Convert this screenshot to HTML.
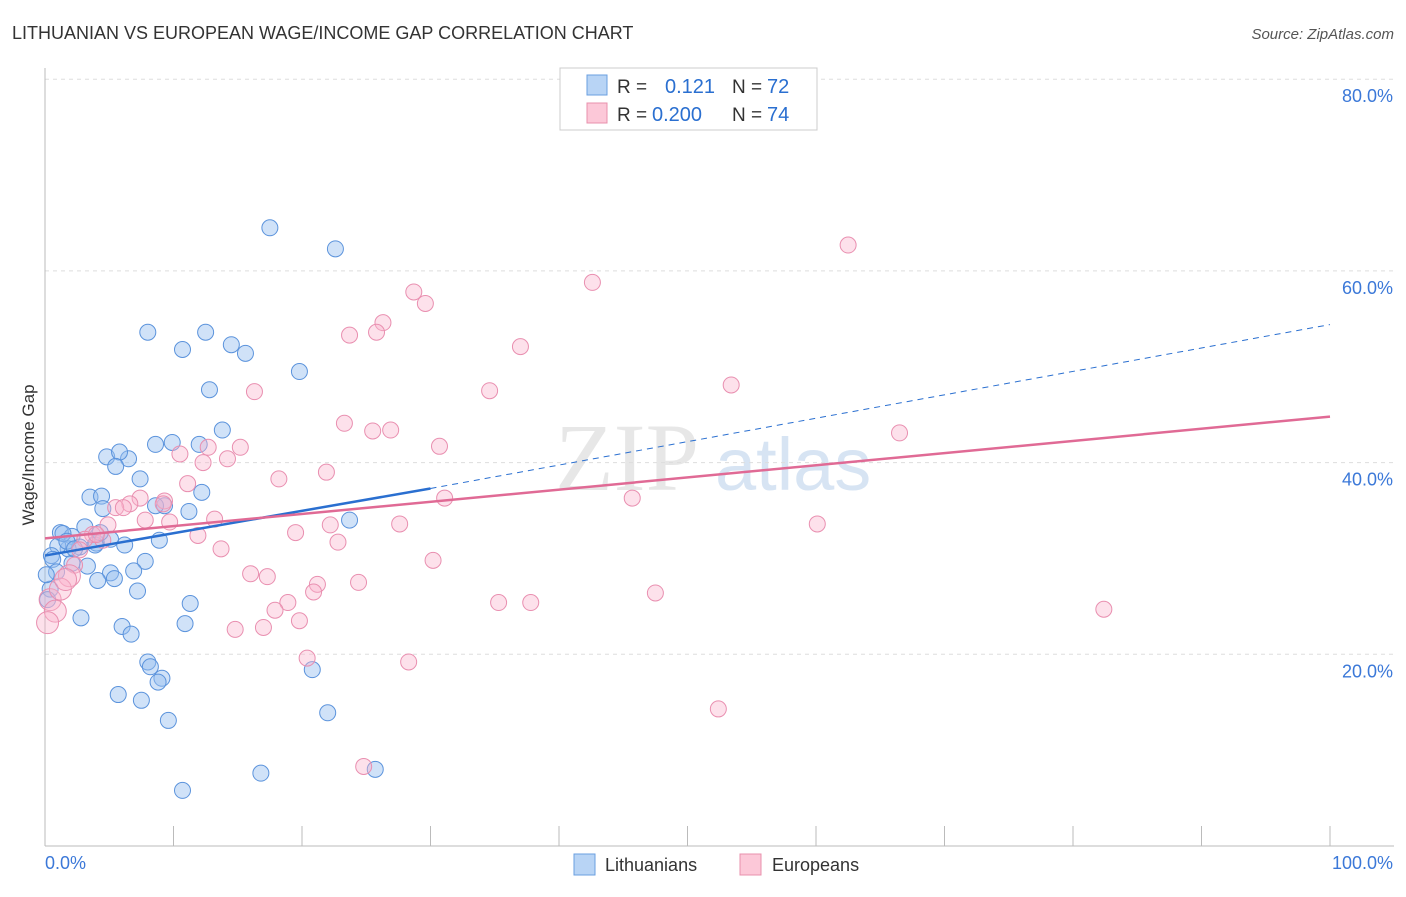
<!DOCTYPE html>
<html><head><meta charset="utf-8"><style>
body{margin:0;background:#fff;font-family:"Liberation Sans",sans-serif}
</style></head><body>
<svg id="c" width="1406" height="892" viewBox="0 0 1406 892" xmlns="http://www.w3.org/2000/svg" font-family="Liberation Sans, sans-serif">
<text x="12" y="39" font-size="18" fill="#333">LITHUANIAN VS EUROPEAN WAGE/INCOME GAP CORRELATION CHART</text>
<text x="1394" y="39" font-size="15" fill="#555" text-anchor="end" font-style="italic">Source: ZipAtlas.com</text>
<text x="555" y="490" font-size="96" fill="#ccc" opacity="0.45" font-family="Liberation Serif, serif">ZIP</text>
<text x="715" y="490" font-size="74" fill="#a8c4e6" opacity="0.45">atlas</text>
<g id="grid"></g><g id="axes"></g><g id="pts"></g><g id="trend"></g>
<text transform="translate(34,455) rotate(-90)" font-size="17" fill="#333" text-anchor="middle">Wage/Income Gap</text>
<g>
<rect x="560" y="68" width="257" height="62" fill="#fff" stroke="#ccc"/>
<rect x="587" y="75" width="20" height="20" fill="#b8d4f5" stroke="#6a9fe0"/>
<rect x="587" y="103" width="20" height="20" fill="#fcc8d8" stroke="#e890ac"/>
<text x="617" y="93" font-size="19" fill="#333">R =</text>
<text x="665" y="93" font-size="20" fill="#2a6fd0">0.121</text>
<text x="732" y="93" font-size="19" fill="#333">N =</text>
<text x="767" y="93" font-size="20" fill="#2a6fd0">72</text>
<text x="617" y="121" font-size="19" fill="#333">R =</text>
<text x="652" y="121" font-size="20" fill="#2a6fd0">0.200</text>
<text x="732" y="121" font-size="19" fill="#333">N =</text>
<text x="767" y="121" font-size="20" fill="#2a6fd0">74</text>
</g>
<g>
<rect x="574" y="854" width="21" height="21" fill="#b8d4f5" stroke="#6a9fe0"/>
<text x="605" y="871" font-size="18" fill="#333">Lithuanians</text>
<rect x="740" y="854" width="21" height="21" fill="#fcc8d8" stroke="#e890ac"/>
<text x="772" y="871" font-size="18" fill="#333">Europeans</text>
</g>
</svg>
<script>
const yTicks=[20,40,60,80];
const yTickLabels=["20.0%","40.0%","60.0%","80.0%"];
const blueX=[17.5,22.6,8.0,12.5,10.7,14.5,15.6,19.8,12.8,13.8,8.6,9.9,12.0,4.8,6.5,5.8,5.5,7.4,3.5,4.4,12.2,4.5,9.3,11.2,23.7,1.2,3.1,2.1,4.0,2.7,1.8,1.0,0.5,6.2,8.9,7.8,3.3,2.1,5.1,6.9,5.4,4.1,7.2,0.6,0.4,11.3,2.8,6.0,6.7,10.9,8.0,8.2,9.1,8.8,20.8,5.7,7.5,9.6,22.0,16.8,25.7,10.7,0.2,1.4,3.9,5.1,0.9,1.7,8.6,0.1,2.3,4.3];
const blueY=[645,623,536,536,518,523,514,495,476,434,419,421,419,406,404,411,396,383,364,365,369,352,355,349,340,327,333,323,316,312,310,313,303,314,319,297,292,295,285,287,279,277,266,299,268,253,238,229,221,232,192,187,175,171,184,158,152,131,139,76,80,58,257,326,314,320,286,318,355,283,310,327].map(v=>v/10);
const pinkX=[62.5,42.6,28.7,29.6,26.3,25.8,23.7,37.0,53.4,34.6,16.3,23.3,25.5,26.9,66.5,30.7,15.2,12.7,10.5,14.2,12.3,21.9,18.2,11.1,31.1,45.7,7.4,9.3,6.6,5.5,6.1,9.2,7.8,9.7,13.2,4.9,27.6,22.2,60.1,3.7,19.5,11.9,4.5,22.8,13.7,30.2,2.3,1.9,16.0,17.3,24.4,21.2,20.9,47.5,35.3,37.8,18.9,17.9,19.8,82.4,17.0,14.8,20.4,28.3,52.4,24.8,0.4,0.8,0.2,1.2,1.6,3.1,4.0,2.7];
const pinkY=[627,588,578,566,546,536,533,521,481,475,474,441,433,434,431,417,416,416,409,404,400,390,383,378,363,363,363,360,357,353,353,357,340,338,341,335,336,335,336,325,327,324,319,317,310,298,293,282,284,281,275,273,265,264,254,254,254,246,235,247,228,226,196,192,143,83,257,245,233,268,278,320,325,309].map(v=>v/10);
const blueTrend=[30.3,37.3,54.4];
const pinkTrend=[32.1,44.8];
const X=v=>45+v*12.85, Y=v=>846-v*9.585;
const NS="http://www.w3.org/2000/svg";
function mk(p,t,a){const e=document.createElementNS(NS,t);for(const k in a)e.setAttribute(k,a[k]);document.getElementById(p).appendChild(e);return e;}
yTicks.forEach((t,i)=>{
 const g=mk('grid','line',{x1:45,x2:1394,y1:Y(t),y2:Y(t),stroke:'#ddd','stroke-dasharray':'4,4'});
 
 
 const l=mk('axes','text',{x:1393,y:Y(t)+23,'font-size':18,fill:'#3b78d8','text-anchor':'end'});l.textContent=yTickLabels[i];
 
 
});
let a=mk('axes','line',{x1:45,x2:1394,y1:846,y2:846,stroke:'#bbb'});


a=mk('axes','line',{x1:45,x2:45,y1:68,y2:846,stroke:'#bbb'});


for(let i=0;i<=10;i++){const t=mk('axes','line',{x1:X(i*10),x2:X(i*10),y1:826,y2:846,stroke:'#bbb'});
 
 }
let l=mk('axes','text',{x:45,y:869,'font-size':18,fill:'#3b78d8'});l.textContent='0.0%';


l=mk('axes','text',{x:1393,y:869,'font-size':18,fill:'#3b78d8','text-anchor':'end'});l.textContent='100.0%';


blueX.forEach((x,i)=>{const c=mk('pts','circle',{cx:X(x),cy:Y(blueY[i]),r:8,fill:'rgba(150,190,240,0.45)',stroke:'#5b93dc','stroke-width':1});
 
 });
pinkX.forEach((x,i)=>{const c=mk('pts','circle',{cx:X(x),cy:Y(pinkY[i]),r:(x<2?11:8),fill:'rgba(250,180,205,0.4)',stroke:'#e98fb0','stroke-width':1});
 
 });
let t=mk('trend','line',{x1:X(0),y1:Y(blueTrend[0]),x2:X(30),y2:Y(blueTrend[1]),stroke:'#2a6fd0','stroke-width':2.5});


t=mk('trend','line',{x1:X(30),y1:Y(blueTrend[1]),x2:X(100),y2:Y(blueTrend[2]),stroke:'#2a6fd0','stroke-width':1,'stroke-dasharray':'6,5'});


t=mk('trend','line',{x1:X(0),y1:Y(pinkTrend[0]),x2:X(100),y2:Y(pinkTrend[1]),stroke:'#e06a95','stroke-width':2.5});


</script>
</body></html>
